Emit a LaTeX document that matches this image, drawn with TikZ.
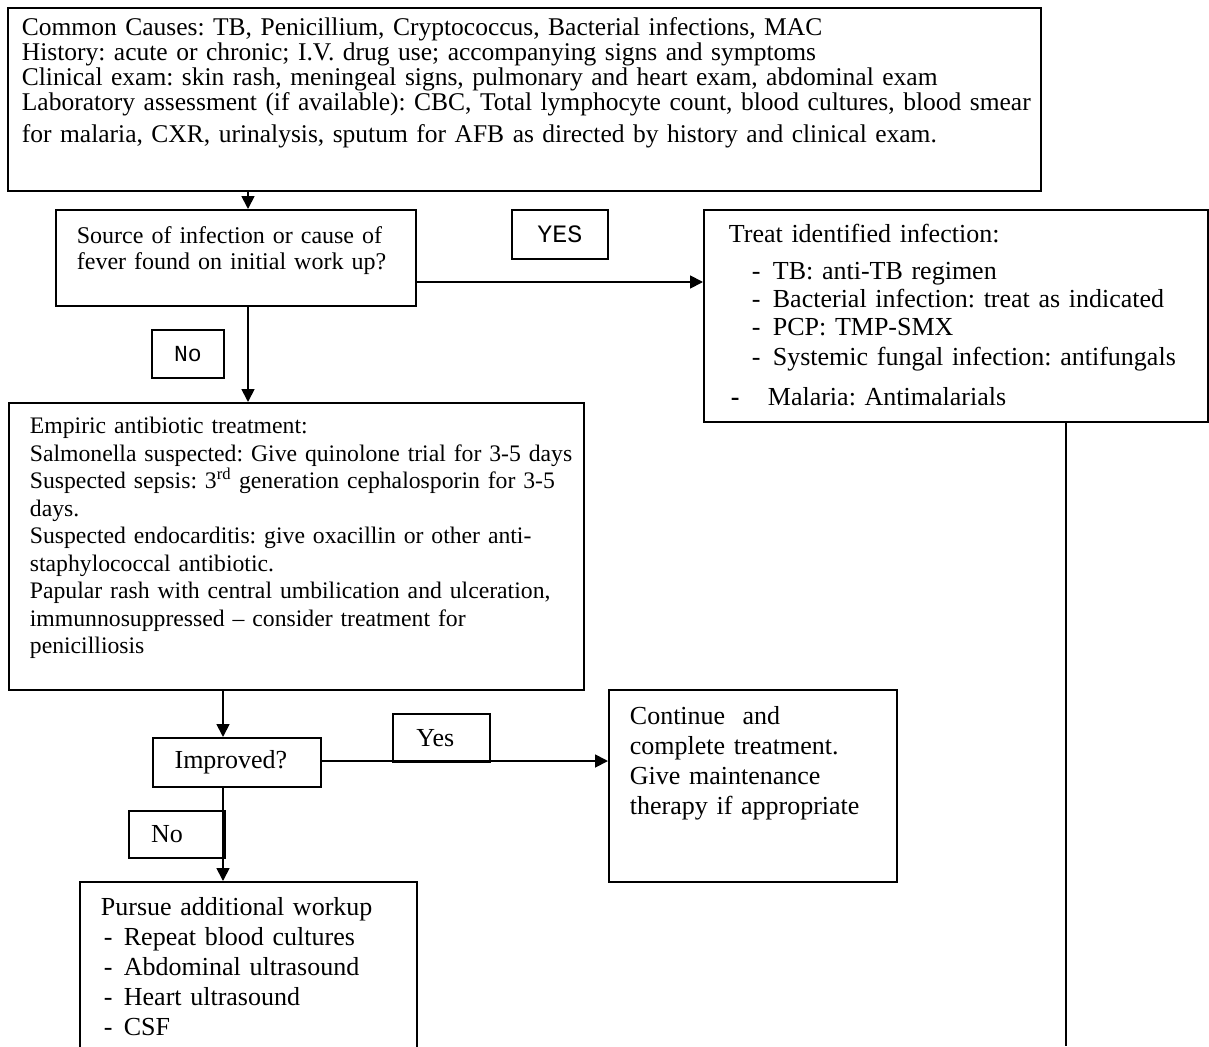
\documentclass[tikz,border=0pt]{standalone}
\usepackage{fontspec}
\setmainfont{Liberation Serif}
\setmonofont{Liberation Mono}
\usetikzlibrary{arrows.meta}
\frenchspacing

\newcommand{\padleft}[1]{\hspace*{#1}\everypar{\hskip#1\relax}}
\newcommand{\itemdash}{\hspace*{23pt}\makebox[21pt][l]{-}}
\newcommand{\workdash}{\hspace*{3pt}\makebox[20pt][l]{-}}

\tikzset{
	box/.style={draw, line width=1.8pt, anchor=north west, inner sep=0pt, align=left},
	tag/.style={draw, line width=1.8pt, anchor=north west, inner sep=0pt, align=center},
	arr/.style={line width=1.8pt, -{Triangle[length=13pt,width=13pt]}},
}

\begin{document}
\begin{tikzpicture}[x=1pt,y=-1pt]
		\clip (0,0) rectangle (1209,1046);
		%%initial work up
		\node[box, text width=1033pt, text height=28pt, text depth=155pt,
			font=\fontsize{25.5}{25}\selectfont] (causes) at (7,7)
			{\padleft{14pt}Common Causes: TB, Penicillium, Cryptococcus, Bacterial infections, MAC\\
			History: acute or chronic; I.V. drug use; accompanying signs and symptoms\\
			Clinical exam: skin rash, meningeal signs, pulmonary and heart exam, abdominal exam\\
			\makebox[998pt][s]{Laboratory assessment (if available): CBC, Total lymphocyte count, blood cultures, blood smear}\\[7pt]
			for malaria, CXR, urinalysis, sputum for AFB as directed by history and clinical exam.};
		%%first question
		\node[box, text width=360pt, text height=34pt, text depth=62pt,
			font=\fontsize{24}{26}\selectfont] (source) at (55,209)
			{\padleft{21pt}Source of infection or cause of\\fever found on initial work up?};
		\node[tag, minimum width=96pt, minimum height=49pt, font=\ttfamily\fontsize{25}{25}\selectfont] (yesA) at (511,209) {YES};
		\node[tag, minimum width=72pt, minimum height=48pt, font=\ttfamily\fontsize{23}{23}\selectfont] (noA) at (151,329) {No};
		%%identified infection
		\node[box, text width=504pt, text height=33pt, text depth=179pt,
			font=\fontsize{26}{28}\selectfont] (treat) at (703,209)
			{\padleft{25pt}Treat identified infection:\\[9pt]
			\itemdash TB: anti-TB regimen\\
			\itemdash Bacterial infection: treat as indicated\\
			\itemdash PCP: TMP-SMX\\[2pt]
			\itemdash Systemic fungal infection: antifungals\\[12pt]
			\hspace*{2pt}\makebox[37pt][l]{\textbf{-}}Malaria: Antimalarials};
		%%empiric treatment
		\node[box, text width=575pt, text height=31pt, text depth=256pt,
			font=\fontsize{23.7}{27.5}\selectfont] (empiric) at (8,402)
			{\padleft{21pt}Empiric antibiotic treatment:\\
			Salmonella suspected: Give quinolone trial for 3-5 days\\
			Suspected sepsis: 3\textsuperscript{rd} generation cephalosporin for 3-5\\
			days.\\
			Suspected endocarditis: give oxacillin or other anti-\\
			staphylococcal antibiotic.\\
			Papular rash with central umbilication and ulceration,\\
			immunnosuppressed – consider treatment for\\
			penicilliosis};
		%%second question
		\node[tag, minimum width=168pt, minimum height=49pt, font=\fontsize{26}{26}\selectfont] (improved) at (152,737) {Improved?\hspace*{12pt}};
		\node[tag, minimum width=97pt, minimum height=48pt, font=\fontsize{26}{26}\selectfont] (yesB) at (392,713) {Yes\hspace*{12pt}};
		\node[tag, minimum width=96pt, minimum height=47pt, font=\fontsize{26}{26}\selectfont] (noB) at (128,810) {No\hspace*{20pt}};
		\node[box, text width=288pt, text height=35pt, text depth=157pt,
			font=\fontsize{26}{30}\selectfont] (continue) at (608,689)
			{\padleft{21pt}Continue\ \ and\\complete treatment.\\Give maintenance\\therapy if appropriate};
		\node[box, text width=337pt, text height=34pt, text depth=200pt,
			font=\fontsize{26}{30}\selectfont] (workup) at (79,881)
			{\padleft{21pt}Pursue additional workup\\
			\workdash Repeat blood cultures\\
			\workdash Abdominal ultrasound\\
			\workdash Heart ultrasound\\
			\workdash CSF};
		%%connectors
		\coordinate (colA) at (248,0);
		\coordinate (colB) at (223,0);
		\coordinate (colC) at (1066,0);
		\coordinate (rowA) at (0,282);
		\coordinate (rowB) at (0,761);
		\coordinate (tail) at (1066,1046);
		\draw[arr] (causes.south -| colA) -- (source.north -| colA);
		\draw[arr] (source.east |- rowA) -- (treat.west |- rowA);
		\draw[arr] (source.south -| colA) -- (empiric.north -| colA);
		\draw[arr] (empiric.south -| colB) -- (improved.north -| colB);
		\draw[arr] (improved.east |- rowB) -- (continue.west |- rowB);
		\draw[arr] (improved.south -| colB) -- (workup.north -| colB);
		\draw[line width=1.8pt] (treat.south -| colC) -- (tail);
\end{tikzpicture}
\end{document}
